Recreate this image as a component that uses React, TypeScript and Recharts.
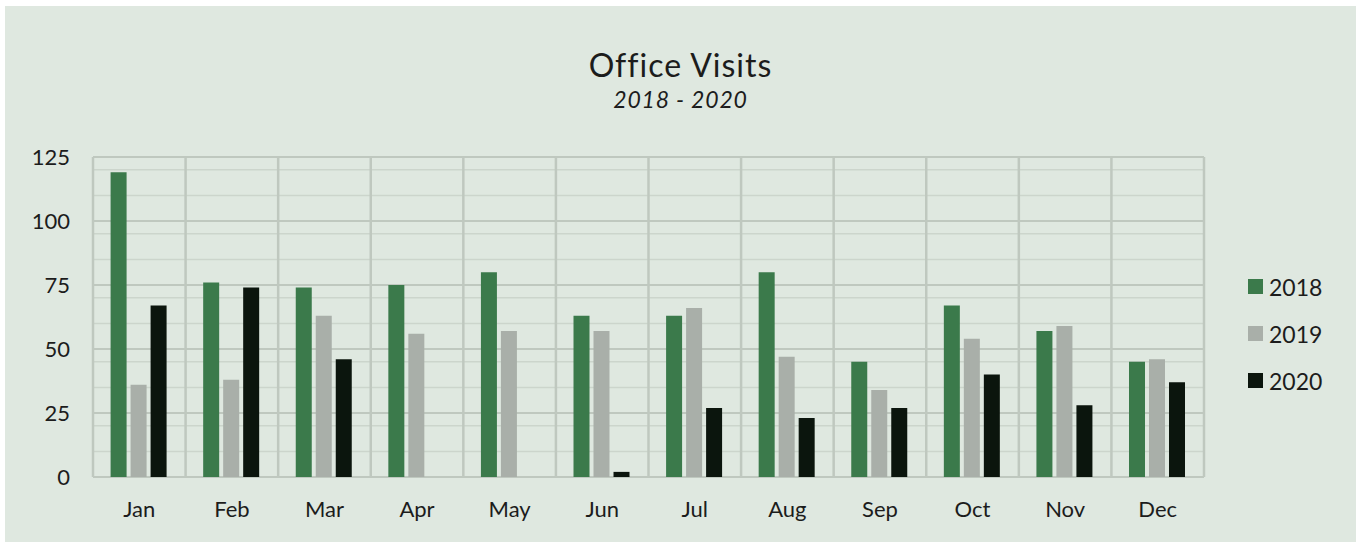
import { BarChart, Bar, XAxis, YAxis, CartesianGrid, Legend, ReferenceLine } from "recharts";

const months = ["Jan", "Feb", "Mar", "Apr", "May", "Jun", "Jul", "Aug", "Sep", "Oct", "Nov", "Dec"];
const visits2018 = [119, 76, 74, 75, 80, 63, 63, 80, 45, 67, 57, 45];
const visits2019 = [36, 38, 63, 56, 57, 57, 66, 47, 34, 54, 59, 46];
const visits2020 = [67, 74, 46, 0, 0, 2, 27, 23, 27, 40, 28, 37];

const majorTicks = [0, 25, 50, 75, 100, 125];
const minorTicks = [5, 10, 15, 20, 30, 35, 40, 45, 55, 60, 65, 70, 80, 85, 90, 95, 105, 110, 115, 120];

const series = [
  { key: "y2018", name: "2018", color: "#3b7a4b" },
  { key: "y2019", name: "2019", color: "#a9afa9" },
  { key: "y2020", name: "2020", color: "#0b150d" },
];

const data = months.map((m, i) => ({
  month: m,
  y2018: visits2018[i],
  y2019: visits2019[i],
  y2020: visits2020[i],
}));

const font = "Lato, 'Open Sans', sans-serif";
const textColor = "#1c1c1c";
const gridMajor = "#bfc8bf";
const gridMinor = "#ccd5cc";

// legend drawn as a plain list, squares + labels
const LegendBox = ({ payload }: any) => (
  <div style={{ paddingLeft: 44, fontFamily: font, fontSize: 23, color: textColor }}>
    {(payload || []).map((p: any) => (
      <div key={p.value} style={{ display: "flex", alignItems: "center", height: 47 }}>
        <span style={{ width: 15, height: 15, flexShrink: 0, background: p.color, marginRight: 6, display: "inline-block" }} />
        <span style={{ whiteSpace: "nowrap" }}>{p.value}</span>
      </div>
    ))}
  </div>
);

export default function App() {
  return (
    <div style={{ position: "absolute", left: 0, top: 0, width: 1356, height: 542, background: "#fff", fontFamily: font }}>
      <div style={{ position: "absolute", left: 5, top: 6, width: 1351, height: 536, background: "#dfe8e0" }}>
        <div style={{ position: "absolute", left: 0, width: 1351, top: 43, textAlign: "center", fontSize: 32, lineHeight: "32px", letterSpacing: 1, color: textColor }}>
          Office Visits
        </div>
        <div style={{ position: "absolute", left: 0, width: 1351, top: 82, textAlign: "center", fontSize: 23, lineHeight: "23px", letterSpacing: 0.8, fontStyle: "italic", color: textColor }}>
          2018 - 2020
        </div>
        <BarChart
          width={1351}
          height={536}
          data={data}
          margin={{ top: 151, right: 22, bottom: 15, left: 28 }}
          barCategoryGap="19%"
          barGap={4}
        >
          <CartesianGrid vertical={false} horizontalValues={minorTicks} stroke={gridMinor} strokeWidth={1.5} />
          <CartesianGrid vertical={false} horizontalValues={majorTicks} stroke={gridMajor} strokeWidth={2} />
          {months.slice(1).map((m) => (
            <ReferenceLine key={m} x={m} position="start" stroke={gridMajor} strokeWidth={2.5} />
          ))}
          <ReferenceLine x="Jan" position="start" stroke={gridMajor} strokeWidth={2.5} />
          <ReferenceLine x="Dec" position="end" stroke={gridMajor} strokeWidth={2.5} />
          <XAxis
            dataKey="month"
            axisLine={false}
            tickLine={false}
            tickSize={0}
            tickMargin={24}
            height={50}
            tick={{ fontSize: 22, fill: textColor, fontFamily: font }}
          />
          <YAxis
            domain={[0, 125]}
            ticks={majorTicks}
            axisLine={false}
            tickLine={false}
            tickSize={0}
            tickMargin={23}
            width={60}
            tick={{ fontSize: 22, fill: textColor, fontFamily: font }}
          />
          <Legend
            layout="vertical"
            align="right"
            verticalAlign="top"
            wrapperStyle={{ top: 257, width: 130 }}
            content={LegendBox}
          />
          {series.map((s) => (
            <Bar key={s.key} dataKey={s.key} name={s.name} fill={s.color} isAnimationActive={false} />
          ))}
        </BarChart>
      </div>
    </div>
  );
}
